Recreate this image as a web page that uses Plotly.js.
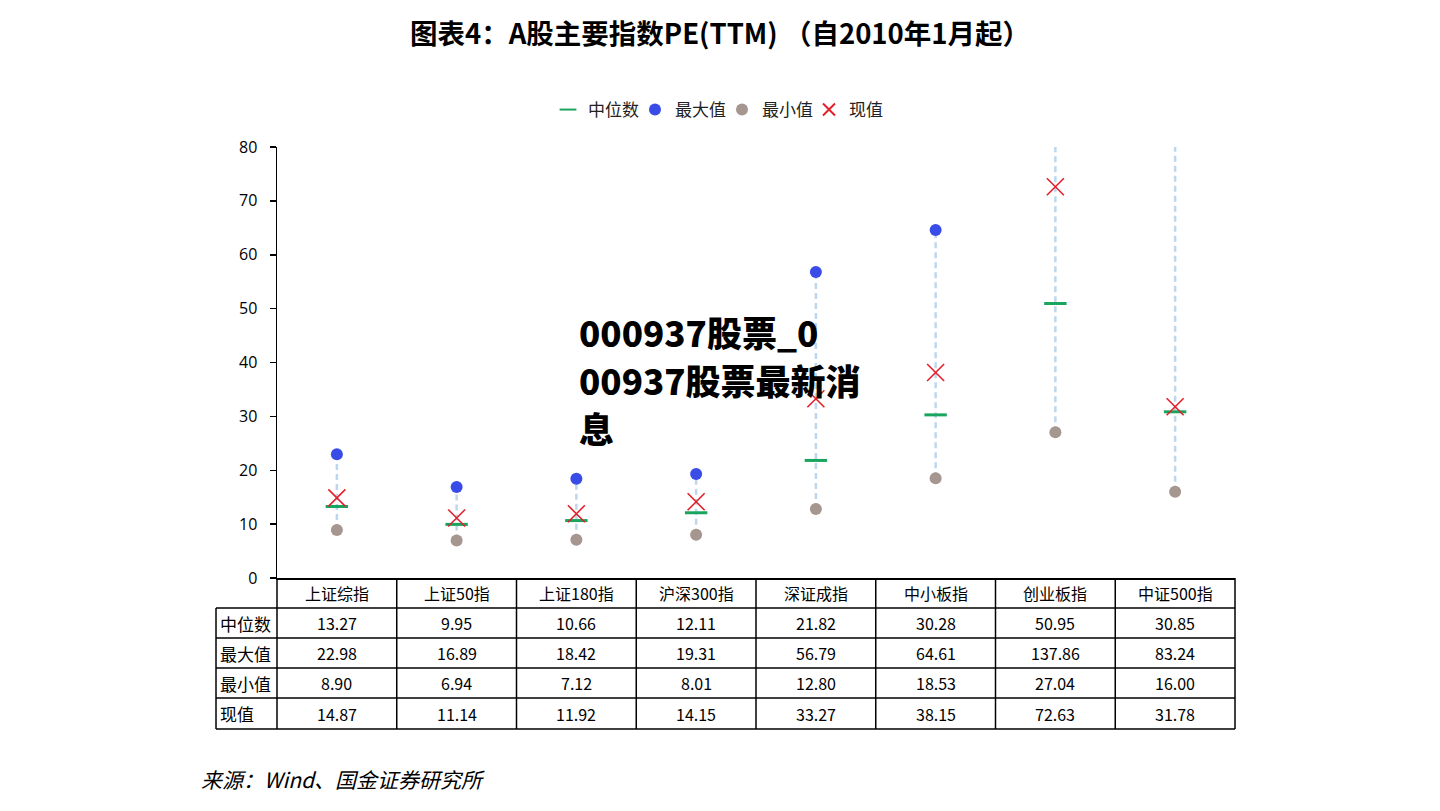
<!DOCTYPE html>
<html><head><meta charset="utf-8">
<script src="https://cdn.plot.ly/plotly-3.0.1.min.js"></script>
<style>html,body{margin:0;padding:0;background:#fff;} #chart{width:1440px;height:811px;}</style>
</head><body><div id="chart"></div>
<script>
// ---- data ----
const categories = ['上证综指','上证50指','上证180指','沪深300指','深证成指','中小板指','创业板指','中证500指'];
const medianPE  = [13.27, 9.95, 10.66, 12.11, 21.82, 30.28, 50.95, 30.85];
const maxPE     = [22.98, 16.89, 18.42, 19.31, 56.79, 64.61, 137.86, 83.24];
const minPE     = [8.90, 6.94, 7.12, 8.01, 12.80, 18.53, 27.04, 16.00];
const currentPE = [14.87, 11.14, 11.92, 14.15, 33.27, 38.15, 72.63, 31.78];
const rowLabels = ['中位数','最大值','最小值','现值'];
const yTicks = [0, 10, 20, 30, 40, 50, 60, 70, 80];
const titleText = '图表4：A股主要指数PE(TTM) （自2010年1月起）';
const sourceText = '来源：Wind、国金证券研究所';
const watermarkLines = ['000937股票_0', '00937股票最新消', '息'];

// ---- layout geometry (pixels) ----
const L = 277, R = 1235, T = 147, B = 578;
const W = R - L, H = B - T;
const px2x = p => (p - L) / W;
const py2y = p => (B - p) / H;
const rowEdges = [578, 608, 638, 668, 698, 729];
const tableLeft = 216;
const watermarkY = [331, 379, 427];
const FONT = 'Noto Sans CJK SC, Noto Sans, sans-serif';

// ---- traces ----
const rangeX = [], rangeY = [];
categories.forEach((c, i) => { rangeX.push(c, c, null); rangeY.push(minPE[i], maxPE[i], null); });

const traces = [
  {type:'scatter', mode:'lines', x:rangeX, y:rangeY, showlegend:false, hoverinfo:'skip',
   line:{color:'#BDD7EE', width:2.5, dash:'6px,4px'}},
  {type:'scatter', mode:'markers', name:'中位数', x:categories, y:medianPE,
   marker:{symbol:'line-ew', size:16, color:'#1AA55E', line:{color:'#1AA55E', width:3}}},
  {type:'scatter', mode:'markers', name:'最大值', x:categories, y:maxPE,
   marker:{symbol:'circle', size:12, color:'#3A4CE8'}},
  {type:'scatter', mode:'markers', name:'最小值', x:categories, y:minPE,
   marker:{symbol:'circle', size:12, color:'#A69690'}},
  {type:'scatter', mode:'markers', name:'现值', x:categories, y:currentPE,
   marker:{symbol:'x-thin', size:17, color:'#E3202A', line:{color:'#E3202A', width:1.6}}}
];

// ---- table (annotations + shapes) ----
const annotations = [];
const shapes = [];
const rowCenter = k => py2y((rowEdges[k] + rowEdges[k+1]) / 2);
categories.forEach((c, i) => {
  annotations.push({xref:'x', yref:'paper', x:i, y:rowCenter(0), text:c, showarrow:false,
    xanchor:'center', yanchor:'middle', font:{family:FONT, size:16, color:'#000'}});
});
const rows = [medianPE, maxPE, minPE, currentPE];
rows.forEach((arr, r) => {
  annotations.push({xref:'paper', yref:'paper', x:px2x(tableLeft + 2), y:rowCenter(r+1), text:rowLabels[r],
    showarrow:false, xanchor:'left', yanchor:'middle', font:{family:FONT, size:17, color:'#000'}});
  arr.forEach((v, i) => {
    annotations.push({xref:'x', yref:'paper', x:i, y:rowCenter(r+1), text:v.toFixed(2), showarrow:false,
      xanchor:'center', yanchor:'middle', font:{family:FONT, size:16, color:'#000'}});
  });
});
const lineStyle = {color:'#000', width:1.5};
for (let k = 1; k < rowEdges.length; k++) {
  shapes.push({type:'line', xref:'paper', yref:'paper', x0:px2x(tableLeft), x1:1,
    y0:py2y(rowEdges[k]), y1:py2y(rowEdges[k]), line:lineStyle});
}
shapes.push({type:'line', xref:'paper', yref:'paper', x0:px2x(tableLeft), x1:px2x(tableLeft),
  y0:py2y(rowEdges[1]), y1:py2y(rowEdges[5]), line:lineStyle});
shapes.push({type:'line', xref:'paper', yref:'paper', x0:0, x1:0, y0:0, y1:py2y(rowEdges[5]), line:lineStyle});
shapes.push({type:'line', xref:'paper', yref:'paper', x0:1, x1:1, y0:0, y1:py2y(rowEdges[5]), line:lineStyle});
for (let i = 0; i < categories.length - 1; i++) {
  shapes.push({type:'line', xref:'x', yref:'paper', x0:i+0.5, x1:i+0.5, y0:0, y1:py2y(rowEdges[5]), line:lineStyle});
}

// source + watermark
annotations.push({xref:'paper', yref:'paper', x:px2x(199), y:py2y(779), text:'<i>'+sourceText+'</i>',
  showarrow:false, xanchor:'left', yanchor:'middle', font:{family:FONT, size:21, color:'#000'}});
watermarkLines.forEach((t, k) => {
  annotations.push({xref:'paper', yref:'paper', x:px2x(578), y:py2y(watermarkY[k]), text:t, align:'left',
    showarrow:false, xanchor:'left', yanchor:'middle', borderpad:0,
    font:{family:FONT, size:35, color:'#000', weight:900}});
});

const layout = {
  width:1440, height:811,
  margin:{l:L, r:1440-R, t:T, b:811-B},
  paper_bgcolor:'#fff', plot_bgcolor:'#fff',
  title:{text:titleText, x:0.5, xanchor:'center', y:1-34/811, yanchor:'middle',
    font:{family:FONT, size:27.5, color:'#000', weight:700}},
  showlegend:true,
  legend:{orientation:'h', x:px2x(722), xanchor:'center', y:py2y(110), yanchor:'middle',
    font:{family:FONT, size:17, color:'#222'}, itemwidth:30, itemsizing:'constant',
    entrywidth:42, bgcolor:'rgba(0,0,0,0)'},
  xaxis:{type:'category', range:[-0.5, 7.5], showticklabels:false, ticks:'', showgrid:false,
    zeroline:false, showline:true, linecolor:'#000', linewidth:1.5, fixedrange:true},
  yaxis:{range:[0, 80], tickvals:yTicks, ticktext:yTicks.map(String), showgrid:false, zeroline:false,
    showline:true, linecolor:'#000', linewidth:1.5, ticks:'outside', ticklen:6, tickwidth:1.5, tickcolor:'#000',
    ticklabelstandoff:9, tickfont:{family:'Open Sans, Noto Sans CJK SC, sans-serif', size:16, color:'#000'}, fixedrange:true},
  annotations:annotations,
  shapes:shapes,
  hovermode:false
};
Plotly.newPlot('chart', traces, layout, {displayModeBar:false, staticPlot:true});
</script></body></html>
